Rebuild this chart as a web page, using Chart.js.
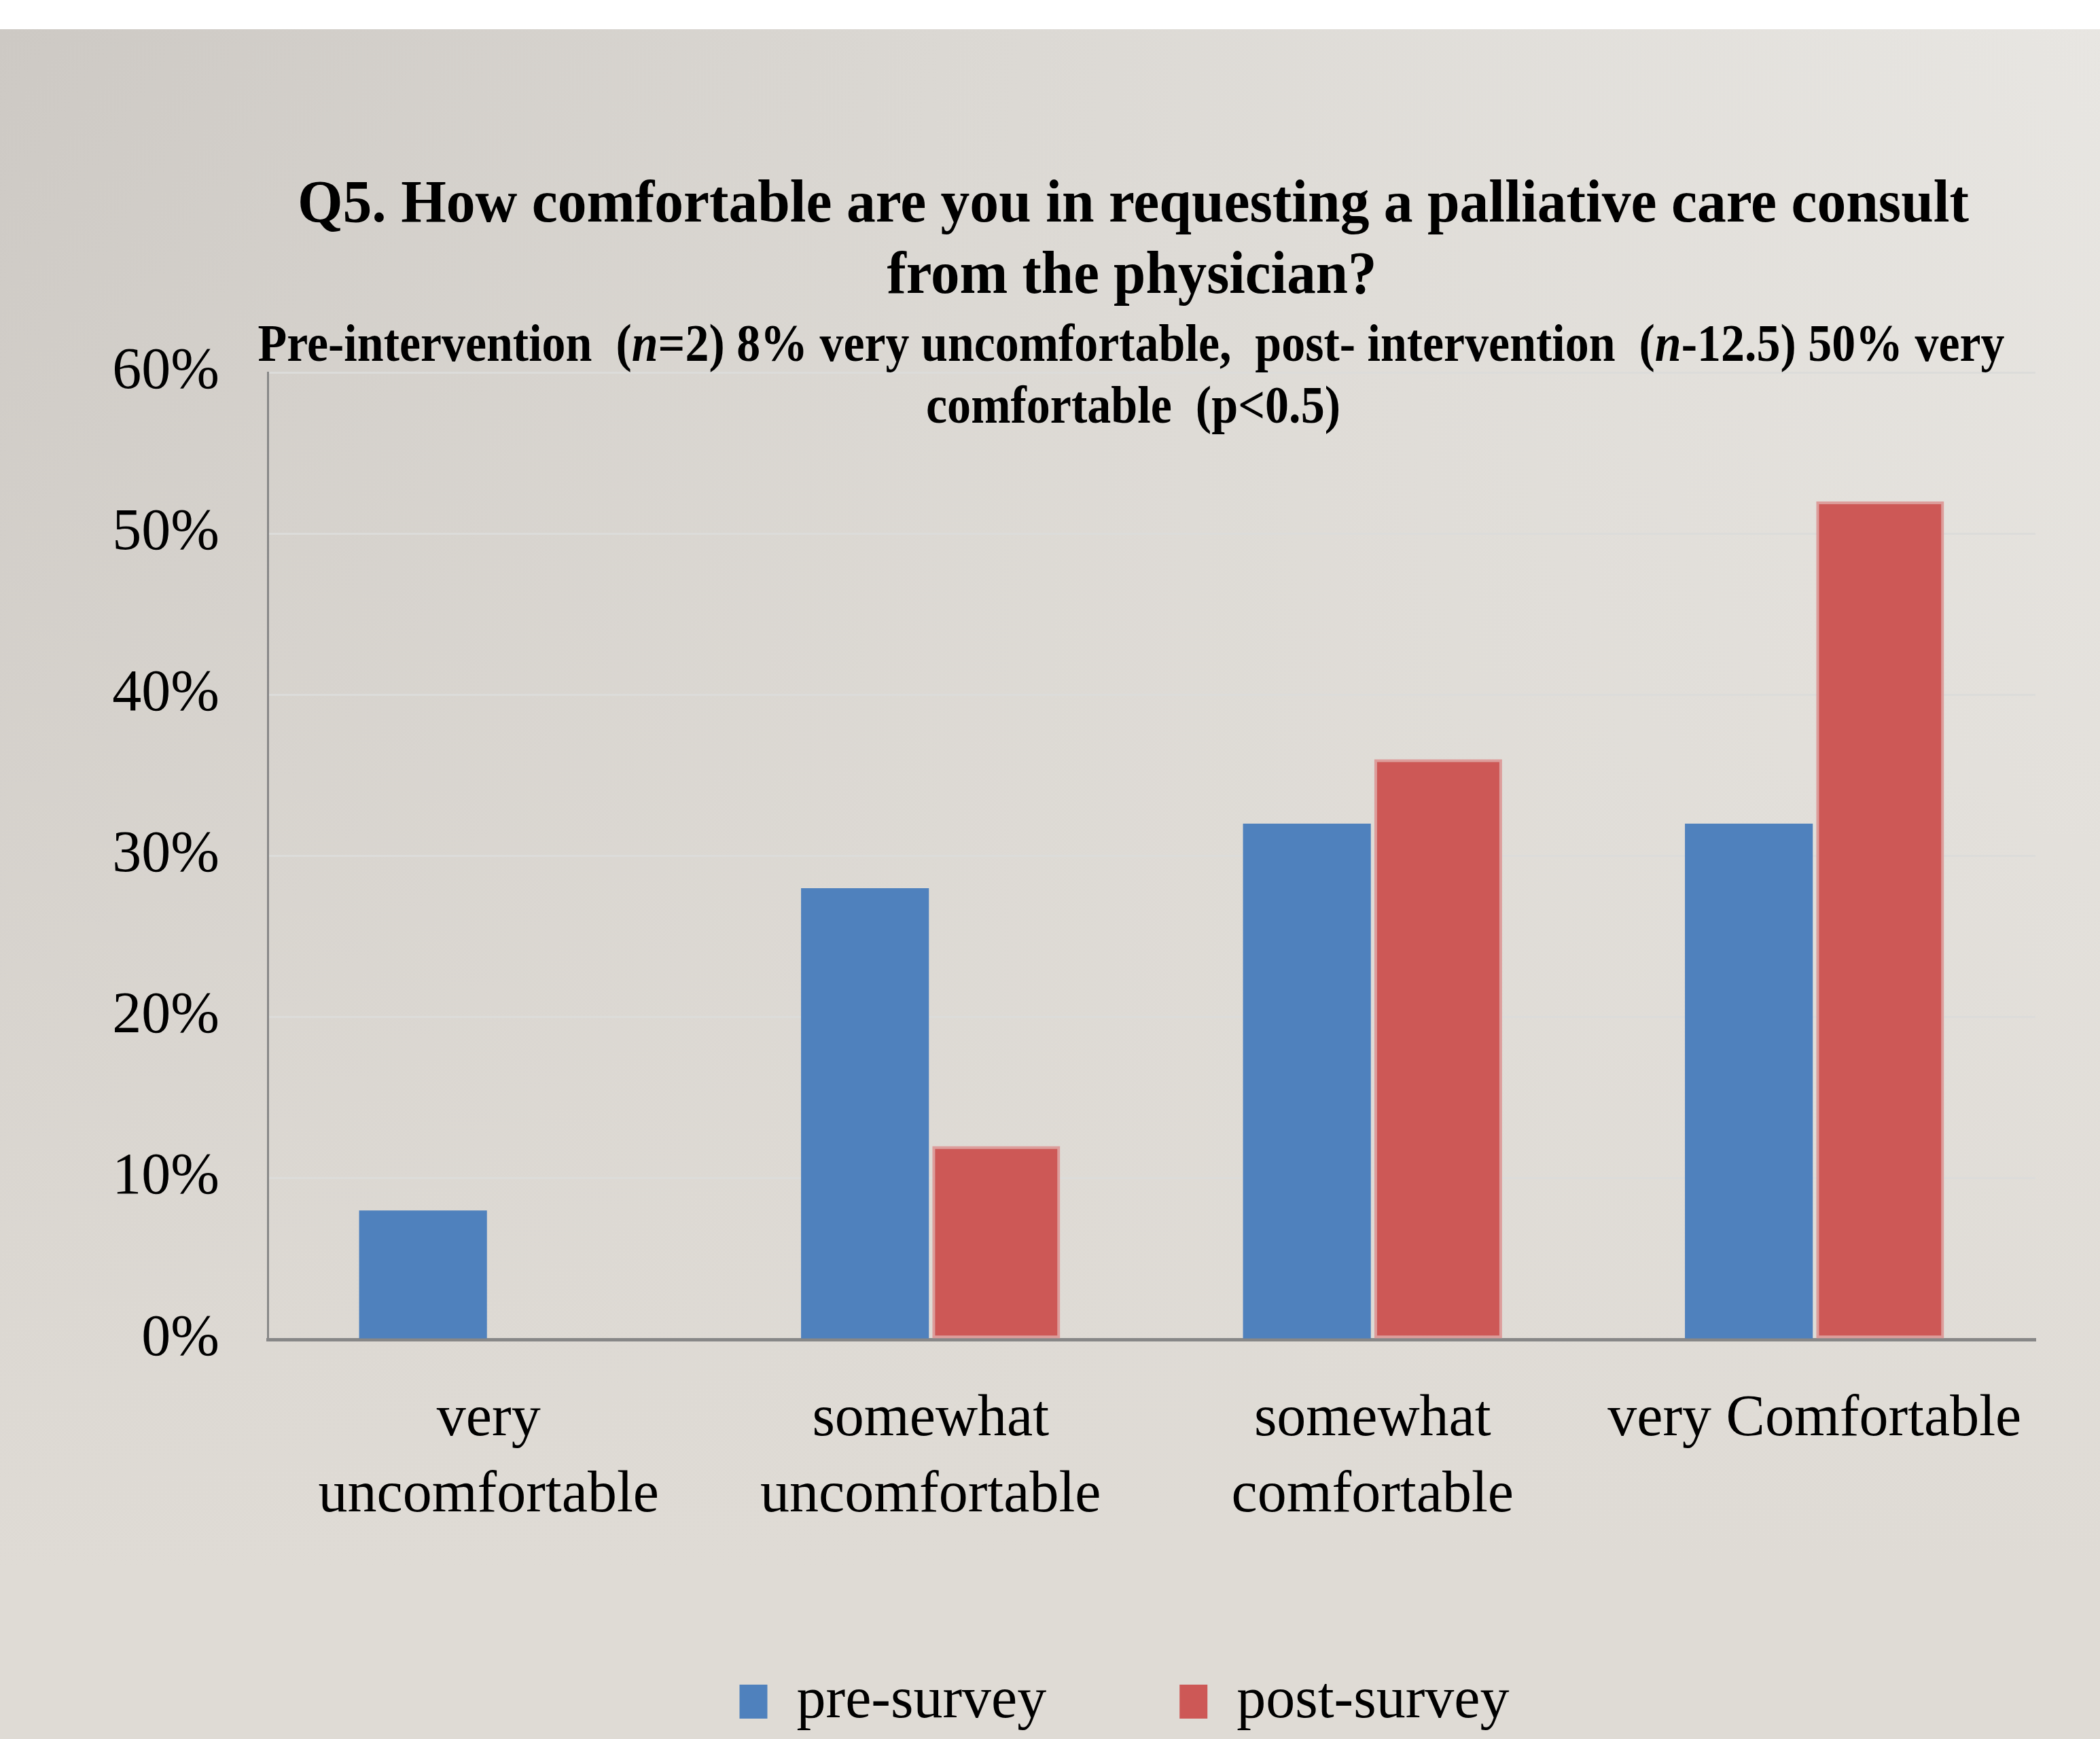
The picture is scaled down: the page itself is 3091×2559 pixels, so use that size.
<!DOCTYPE html>
<html>
<head>
<meta charset="utf-8">
<script src="https://cdn.jsdelivr.net/npm/chart.js@4"></script>
<style>
  html, body { margin: 0; padding: 0; background: #fff; }
  #wrap { position: relative; width: 3091px; height: 2559px; overflow: hidden; }
  #bg {
    position: absolute; left: 0; top: 43px; width: 3091px; height: 2516px;
    background:
      linear-gradient(to bottom, rgba(223,219,213,0) 0%, rgba(223,219,213,0.6) 55%, rgba(223,219,213,1) 90%),
      linear-gradient(to right, #cdc9c4 0%, #dbd8d3 45%, #e8e6e2 100%);
  }
  #chart { position: absolute; left: 0; top: 0; }
</style>
</head>
<body>
<div id="wrap">
  <div id="bg"></div>
  <canvas id="chart" width="3091" height="2559"></canvas>
</div>
<script>
// chart data
const categories = [['very', 'uncomfortable'], ['somewhat', 'uncomfortable'], ['somewhat', 'comfortable'], 'very Comfortable'];
const preSurvey = [8, 28, 32, 32];
const postSurvey = [0, 12, 36, 52];
const yTickValues = [0, 10, 20, 30, 40, 50, 60];
const seriesNames = ['pre-survey', 'post-survey'];

// title text, each row is a list of [text, italic]
const titleRows = [
    [['Q5. How comfortable are you in requesting a palliative care consult', false]],
    [['from the physician?', false]]
];
const subtitleRows = [
    [['Pre-intervention  (', false], ['n', true], ['=2) 8% very uncomfortable,  post- intervention  (', false], ['n', true], ['-12.5) 50% very', false]],
    [['comfortable  (p<0.5)', false]]
];

// where the title rows go (center x, baseline y, fitted width)
const titleLayout = [
    { size: 88, x: 1668, y: 326, width: 2460 },
    { size: 88, x: 1666, y: 431, width: 721 }
];
const subtitleLayout = [
    { size: 78, x: 1665, y: 531, width: 2571 },
    { size: 78, x: 1668, y: 622, width: 610 }
];

const fontFamily = "'Liberation Serif', 'Times New Roman', serif";

const drawRow = (ctx, segments, box) => {
    const fontFor = (italic) => (italic ? 'italic ' : '') + 'bold ' + box.size + 'px ' + fontFamily;
    let natural = 0;
    segments.forEach(([text, italic]) => {
        ctx.font = fontFor(italic);
        natural += ctx.measureText(text).width;
    });
    const sx = box.width / natural;
    ctx.save();
    ctx.translate(box.x - box.width / 2, box.y);
    ctx.scale(sx, 1);
    let x = 0;
    segments.forEach(([text, italic]) => {
        ctx.font = fontFor(italic);
        ctx.fillText(text, x, 0);
        x += ctx.measureText(text).width;
    });
    ctx.restore();
};

const titleBlock = {
    id: 'titleBlock',
    afterLayout(chart) {
        // nudge the legend a little to the left, like the original
        if (chart.legend) {
            chart.legend.left -= 40;
            chart.legend.right -= 40;
        }
    },
    afterDraw(chart) {
        const ctx = chart.ctx;
        ctx.save();
        ctx.fillStyle = '#000';
        ctx.textAlign = 'left';
        ctx.textBaseline = 'alphabetic';
        titleRows.forEach((row, i) => drawRow(ctx, row, titleLayout[i]));
        subtitleRows.forEach((row, i) => drawRow(ctx, row, subtitleLayout[i]));
        ctx.restore();
    }
};

Chart.defaults.font.family = fontFamily;
Chart.defaults.color = '#000';

const ctx = document.getElementById('chart').getContext('2d');
new Chart(ctx, {
    type: 'bar',
    data: {
        labels: categories,
        datasets: [{
            label: seriesNames[0],
            data: preSurvey,
            backgroundColor: '#4f81bd',
            borderWidth: 0
        }, {
            label: seriesNames[1],
            data: postSurvey,
            backgroundColor: '#cd5856',
            borderColor: '#dd9d9b',
            borderWidth: (c) => (c.type === 'data' && !c.raw) ? 0 : 4,
            borderSkipped: false
        }]
    },
    options: {
        responsive: false,
        animation: false,
        devicePixelRatio: 1,
        categoryPercentage: 0.594,
        barPercentage: 0.974,
        layout: {
            padding: { top: 548, right: 95, bottom: 2, left: 0 }
        },
        plugins: {
            title: { display: false },
            tooltip: { enabled: false },
            legend: {
                position: 'bottom',
                fullSize: false,
                labels: {
                    boxWidth: 41,
                    boxHeight: 50,
                    padding: 196,
                    color: '#000',
                    font: { size: 86 }
                }
            }
        },
        scales: {
            x: {
                grid: { display: false, drawTicks: false },
                border: { display: true, color: '#878787', width: 5 },
                ticks: {
                    padding: 63,
                    color: '#000',
                    font: { size: 86, lineHeight: 1.3 },
                    maxRotation: 0,
                    autoSkip: false
                },
                afterFit: (scale) => { scale.height = 294; }
            },
            y: {
                min: 0,
                max: 60,
                afterBuildTicks: (scale) => {
                    scale.ticks = yTickValues.map(v => ({ value: v }));
                },
                grid: { color: '#dcdcda', lineWidth: 3, drawTicks: false },
                border: { display: true, color: '#888888', width: 3 },
                ticks: {
                    padding: 71,
                    color: '#000',
                    font: { size: 86 },
                    callback: (v) => v + '%'
                },
                afterFit: (scale) => { scale.width = 394; }
            }
        }
    },
    plugins: [titleBlock]
});
</script>
</body>
</html>
